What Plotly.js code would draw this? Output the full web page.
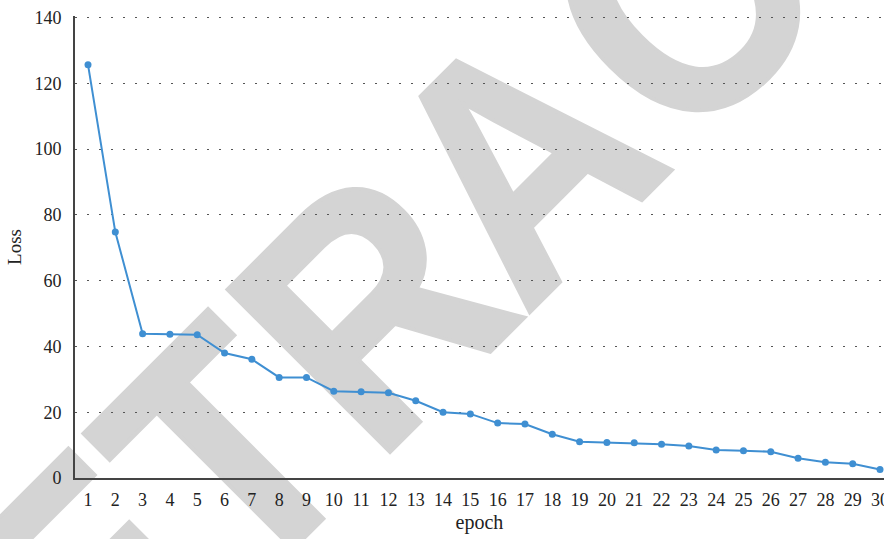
<!DOCTYPE html>
<html>
<head>
<meta charset="utf-8">
<script src="https://cdn.plot.ly/plotly-3.0.1.min.js"></script>
<style>
  html, body { margin: 0; padding: 0; background: #ffffff; }
  #wrap { position: relative; width: 884px; height: 539px; overflow: hidden; }
  #wm { position: absolute; left: 0; top: 0; width: 884px; height: 539px; z-index: 0; }
  #chart { position: absolute; left: 0; top: 0; width: 884px; height: 539px; z-index: 1; }
</style>
</head>
<body>
<div id="wrap">
  <svg id="wm" width="884" height="539" xmlns="http://www.w3.org/2000/svg"></svg>
  <div id="chart"></div>
</div>
<script>
const epochs = [1,2,3,4,5,6,7,8,9,10,11,12,13,14,15,16,17,18,19,20,21,22,23,24,25,26,27,28,29,30];
const loss = [125.7,74.8,43.9,43.7,43.6,38.0,36.1,30.6,30.6,26.4,26.2,25.9,23.5,20.0,19.5,16.7,16.4,13.3,11.0,10.8,10.7,10.3,9.7,8.5,8.3,8.0,6.0,4.8,4.3,2.6];
const yTicks = [0,20,40,60,80,100,120,140];
const watermarkLetters = ['R','E','T','R','A','C','T','E','D'];

// Watermark: diagonal grey word behind the chart (real SVG text, one glyph per element)
(function drawWatermark() {
  const svgNS = 'http://www.w3.org/2000/svg';
  const svg = document.getElementById('wm');
  const place = [
    {s: -668, a: 'start'}, {s: -451, a: 'start'}, {s: -159.5, a: 'middle'},
    {s: -64, a: 'start'}, {s: 254.5, a: 'middle'}, {s: 372, a: 'start'},
    {s: 589, a: 'start'}, {s: 772, a: 'start'}, {s: 972, a: 'start'}
  ];
  const ox = 421, oy = 421, r2 = Math.SQRT2;
  watermarkLetters.forEach((ch, i) => {
    const p = place[i];
    const X = ox + p.s / r2, Y = oy - p.s / r2;
    const t = document.createElementNS(svgNS, 'text');
    t.setAttribute('x', 0); t.setAttribute('y', 0);
    t.setAttribute('text-anchor', p.a);
    t.setAttribute('transform', `translate(${X.toFixed(1)},${Y.toFixed(1)}) rotate(-45) scale(0.898,1)`);
    t.setAttribute('font-family', 'Liberation Sans, Arial, sans-serif');
    t.setAttribute('font-weight', 'bold');
    t.setAttribute('font-size', '334');
    t.setAttribute('fill', '#d4d4d4');
    t.setAttribute('stroke', '#d4d4d4');
    t.setAttribute('stroke-width', '4');
    t.textContent = ch;
    svg.appendChild(t);
  });
})();

const trace = {
  x: epochs, y: loss, type: 'scatter', mode: 'lines+markers',
  line: {color: '#3f8fd2', width: 2},
  marker: {color: '#3f8fd2', size: 7},
  hoverinfo: 'skip', cliponaxis: false
};

const layout = {
  width: 884, height: 539,
  margin: {l: 75, r: 0, t: 16, b: 61},
  paper_bgcolor: 'rgba(0,0,0,0)', plot_bgcolor: 'rgba(0,0,0,0)',
  showlegend: false,
  font: {family: 'Liberation Serif, DejaVu Serif, serif', color: '#222'},
  xaxis: {
    range: [0.524, 30.146], tickmode: 'array', tickvals: epochs, ticktext: epochs.map(String),
    showgrid: false, zeroline: false, showline: true, linecolor: '#444', linewidth: 2,
    ticks: '', tickfont: {size: 18, color: '#222'}, ticklabelstandoff: 4,
    ticklabeloverflow: 'allow',
    title: {text: 'epoch', font: {size: 20, color: '#222'}, standoff: 6}
  },
  yaxis: {
    range: [0, 140.5], tickmode: 'array', tickvals: yTicks, ticktext: yTicks.map(String),
    showgrid: true, gridcolor: '#555', gridwidth: 1, griddash: '2px,10px',
    zeroline: false, showline: true, linecolor: '#444', linewidth: 2,
    ticks: '', tickfont: {size: 18, color: '#222'}, ticklabelstandoff: 8,
    ticklabeloverflow: 'allow',
    title: {text: 'Loss', font: {size: 19, color: '#222'}, standoff: 8}
  }
};

Plotly.newPlot('chart', [trace], layout, {displayModeBar: false, staticPlot: true});
</script>
</body>
</html>
